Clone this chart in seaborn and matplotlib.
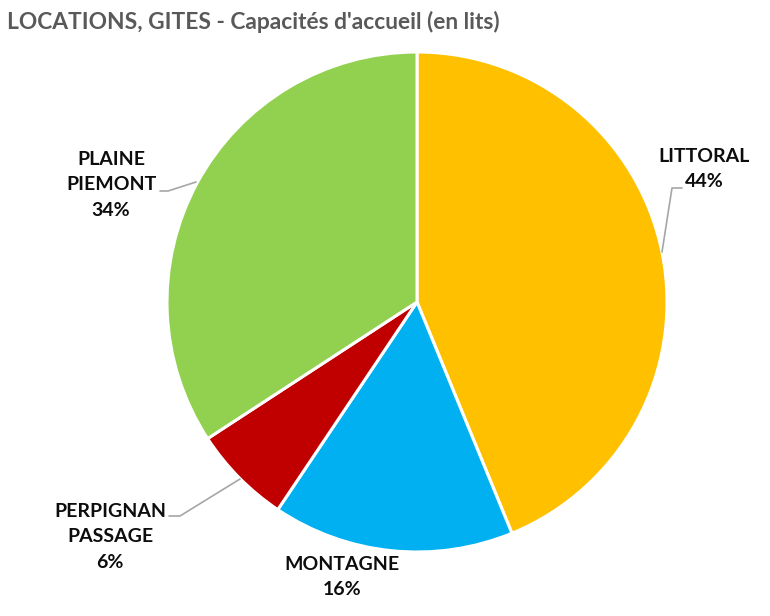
import matplotlib
matplotlib.use("Agg")
import matplotlib.pyplot as plt
import seaborn as sns

title = "LOCATIONS, GITES - Capacités d'accueil (en lits)"
categories = ["LITTORAL", "MONTAGNE", "PERPIGNAN\nPASSAGE", "PLAINE\nPIEMONT"]
values = [43.8, 15.6, 6.4, 34.2]
colors = ["#FFC000", "#00B0F0", "#C00000", "#92D050"]

sns.set_theme(style="white")
plt.rcParams['font.family'] = ['Lato', 'DejaVu Sans']

W, H = 770, 616
fig = plt.figure(figsize=(W / 100, H / 100), dpi=100)
cx, cy, r = 417, 302, 250
ax = fig.add_axes([(cx - r) / W, (H - (cy + r)) / H, 2 * r / W, 2 * r / H])
ax.pie(values, colors=colors, startangle=90, counterclock=False,
       wedgeprops=dict(edgecolor="white", linewidth=2.2), radius=1.0)
ax.set_xlim(-1, 1)
ax.set_ylim(-1, 1)
ax.set_aspect("equal")
ax.axis("off")


def d(px, py):
    return ((px - cx) / r, (cy - py) / r)


total = sum(values)
pcts = [f"{round(v / total * 100)}%" for v in values]

# label positions (pixel centers) and leader lines
label_pos = [(704, 169), (342, 577), (110, 537), (111, 185)]
leaders = [
    [(682, 188), (672, 188), (662, 252)],
    None,
    [(169, 516), (180, 516), (240, 479)],
    [(160, 191), (168, 191), (196, 182)],
]

for cat, p, pos, ld in zip(categories, pcts, label_pos, leaders):
    x, y = d(*pos)
    ax.text(x, y, f"{cat}\n{p}", ha="center", va="center", fontsize=14,
            fontweight="bold", color="#0D0D0D", linespacing=1.6, clip_on=False)
    if ld is not None:
        xs, ys = zip(*[d(*q) for q in ld])
        ax.plot(xs, ys, color="#A6A6A6", lw=1.2, clip_on=False)

fig.text(7 / W, 1 - 22 / H, title, ha="left", va="center", fontsize=16.4,
         fontweight="bold", color="#595959")

fig.savefig("out.png", dpi=100, facecolor="white")
